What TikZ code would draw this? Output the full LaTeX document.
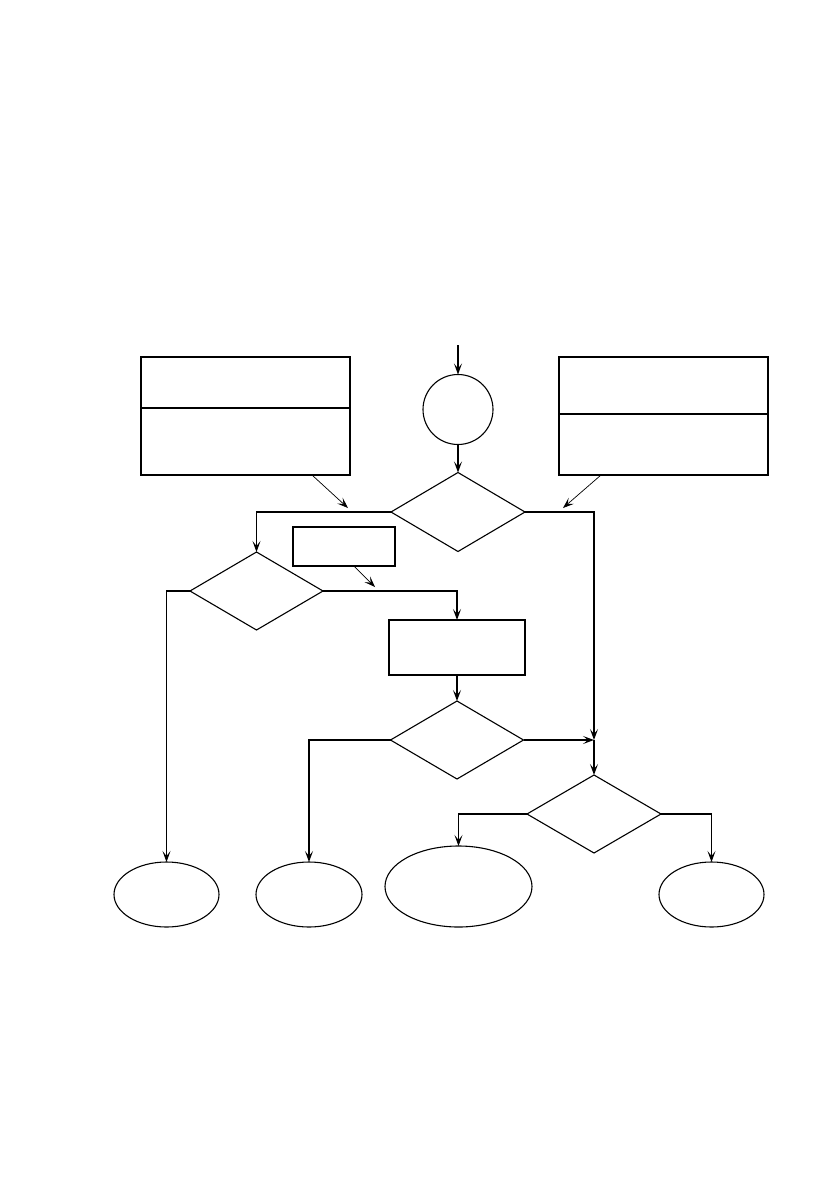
\documentclass[tikz,border=0pt]{standalone}
\usetikzlibrary{shapes.geometric,arrows.meta}
\begin{document}
\begin{tikzpicture}[x=1pt,y=-1pt,
  every node/.style={draw,line width=1.1pt,inner sep=0pt,outer sep=0pt},
  dec/.style={diamond,minimum width=134pt,minimum height=79pt},
  term/.style={ellipse},
  boxa/.style={rectangle},
  flow/.style={line width=1.1pt,-{Stealth[length=11pt,width=8pt,inset=5pt]}},
  note/.style={line width=0.7pt,-{Stealth[length=11pt,width=8pt,inset=5pt]}},
  thick top/.style={line width=2.2pt}]
\useasboundingbox (0,0) rectangle (838,1192);
% nodes
\coordinate (start) at (458,345);
\node[circle,minimum size=70pt] (c) at (458,409.5) {};
\node[dec] (d1) at (458,512) {};
\node[boxa,minimum width=209pt,minimum height=118pt] (lb) at (245.5,416) {};
\node[boxa,minimum width=209pt,minimum height=118pt] (rb) at (663.5,416) {};
\node[boxa,minimum width=102pt,minimum height=39pt] (sb) at (344,546.5) {};
\node[dec,minimum width=133pt,minimum height=78pt] (d2) at (256.5,591) {};
\node[boxa,minimum width=136pt,minimum height=55pt] (b2) at (457,647.5) {};
\node[dec,minimum width=133pt,minimum height=78pt] (d3) at (457,740) {};
\node[dec,minimum width=134pt,minimum height=78pt] (d4) at (594,814) {};
\node[term,minimum width=105pt,minimum height=65pt] (e1) at (166.5,894.5) {};
\node[term,minimum width=106pt,minimum height=65pt] (e2) at (309,894.5) {};
\node[term,minimum width=147pt,minimum height=81pt] (e3) at (458.5,886.5) {};
\node[term,minimum width=105pt,minimum height=65pt] (e4) at (711.5,894.5) {};
% thick tops and dividers
\draw[thick top] (lb.north west) -- (lb.north east);
\draw[thick top] (rb.north west) -- (rb.north east);
\draw[thick top] (sb.north west) -- (sb.north east);
\draw[thick top] (sb.south west) -- (sb.south east);
\draw[thick top] (b2.north west) -- (b2.north east);
\draw[line width=1.1pt] (141,408) -- (350,408);
\draw[line width=1.1pt] (559,414) -- (768,414);
% flow connectors
\coordinate (j) at (594,740);
\draw[flow] (start) -- (c.north);
\draw[flow] (c.south) -- (d1.north);
\draw[flow] (d1.west) -| (d2.north);
\draw[flow] (d1.east) -| (j);
\draw[flow] (j) -- (d4.north);
\draw[flow] (d2.east) -| (b2.north);
\draw[flow] (d2.west) -| (e1.north);
\draw[flow] (b2.south) -- (d3.north);
\draw[flow] (d3.east) -- (j);
\draw[flow] (d3.west) -| (e2.north);
\draw[flow] (d4.west) -| (e3.north);
\draw[flow] (d4.east) -| (e4.north);
% annotation arrows
\coordinate (n1) at (348,508);
\coordinate (n2) at (563,508);
\coordinate (n3) at (375,587);
\draw[note] (lb.south -| 312,0) -- (n1);
\draw[note] (rb.south -| 601,0) -- (n2);
\draw[note] (sb.south -| 354,0) -- (n3);
\end{tikzpicture}
\end{document}
